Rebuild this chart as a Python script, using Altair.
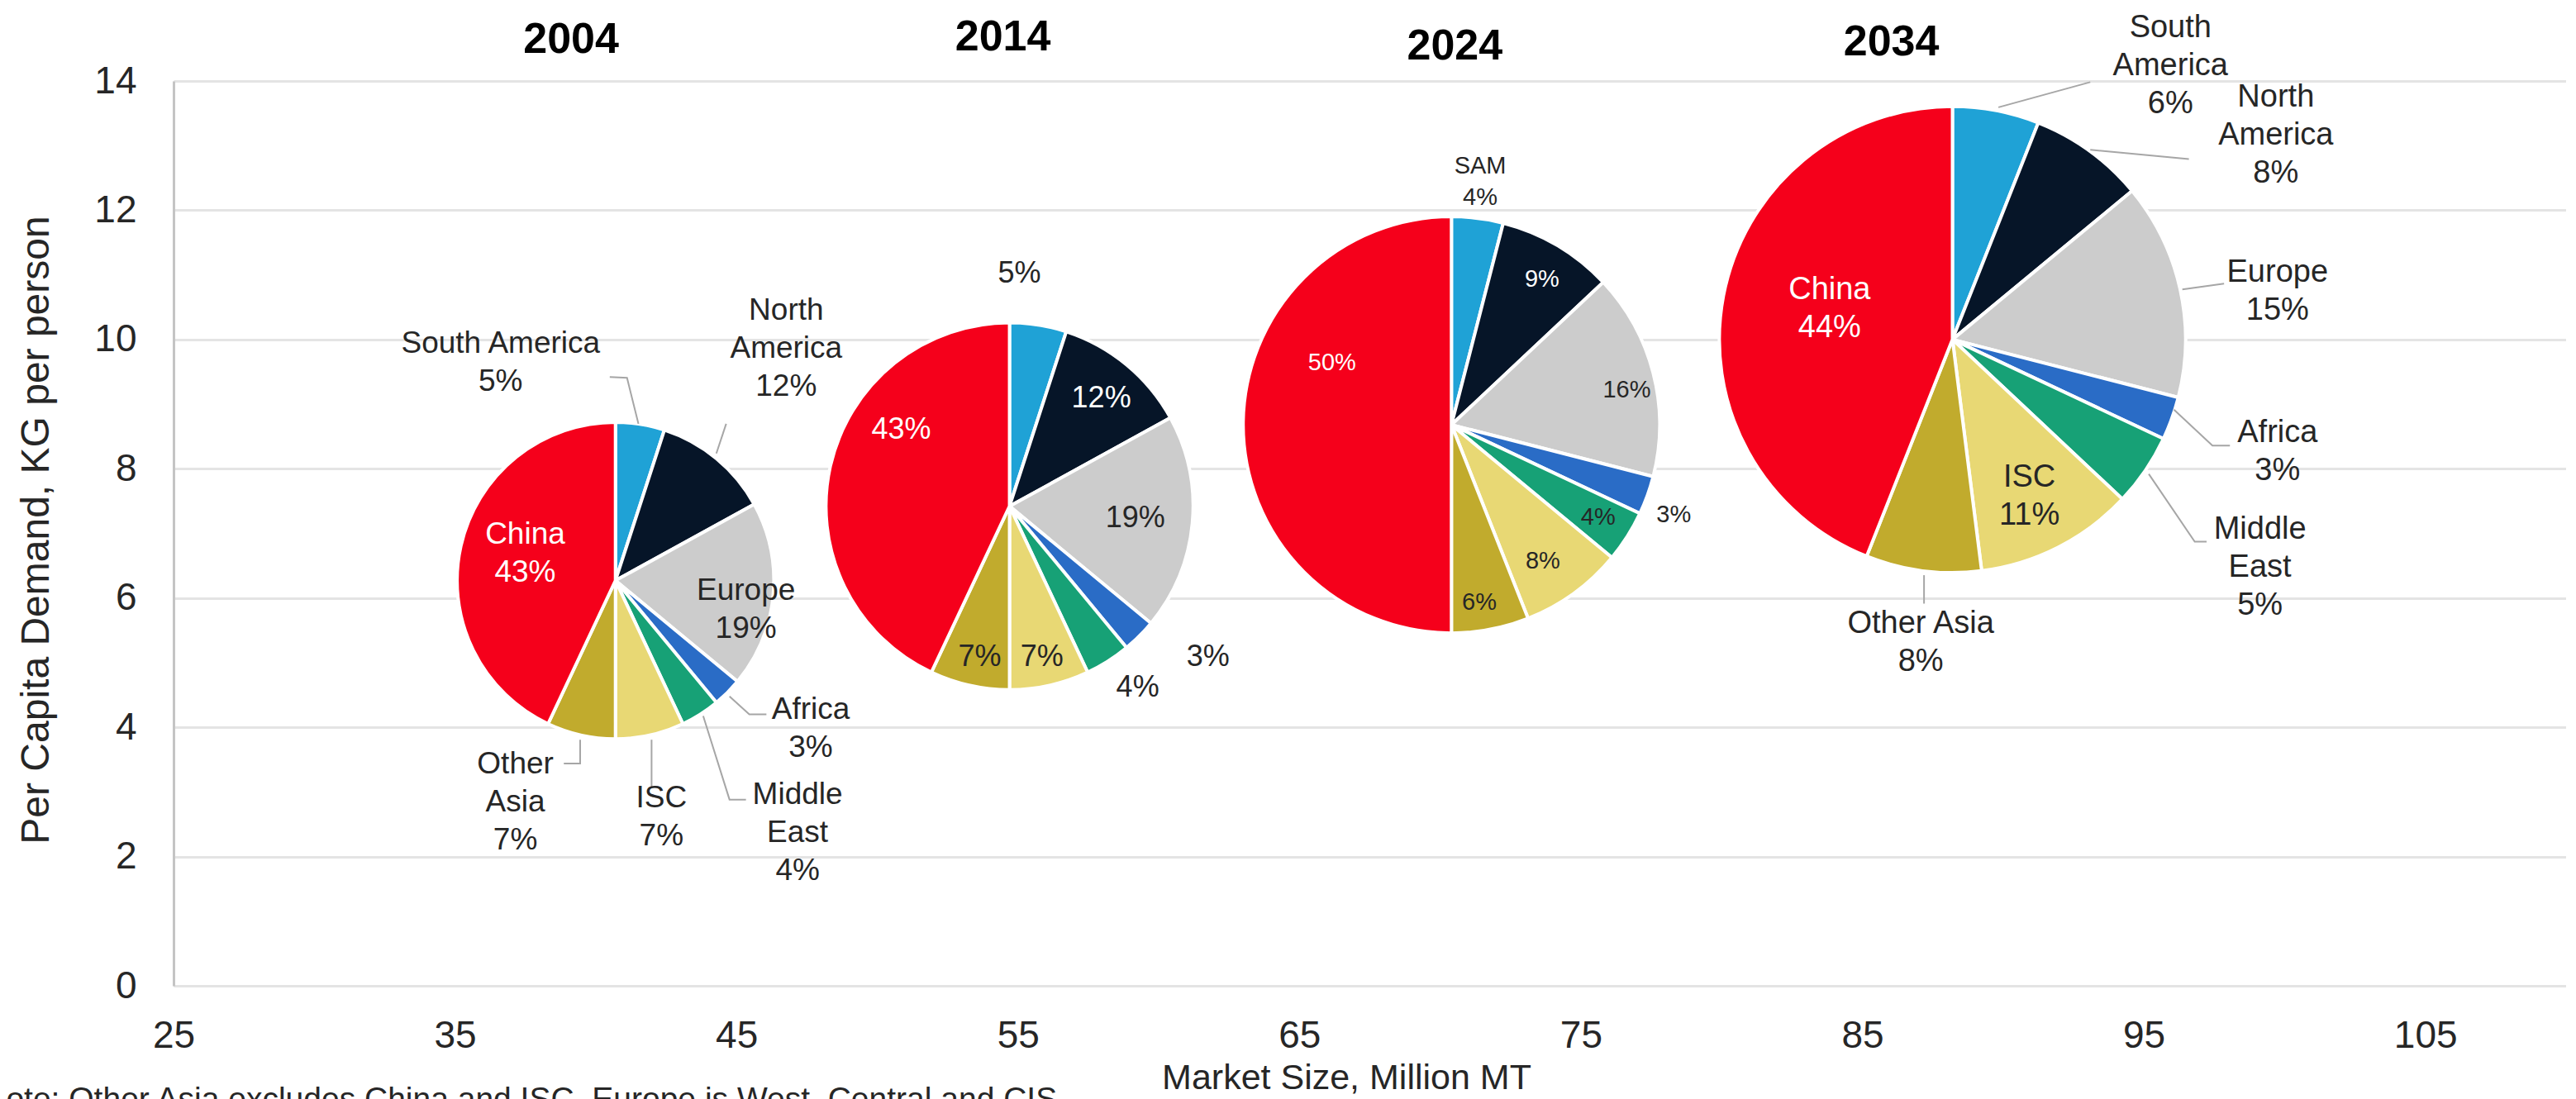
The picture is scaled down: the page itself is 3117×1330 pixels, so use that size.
import math
import altair as alt
import pandas as pd

# ---------------- data ----------------
YEARS = ["2004", "2014", "2024", "2034"]
MARKET_SIZE = [40.7, 54.7, 70.4, 88.2]      # Million MT (x position, pie size)
PER_CAPITA = [6.27, 7.42, 8.68, 10.0]       # KG per person (y position)
REGIONS = ["South America", "North America", "Europe", "Africa",
           "Middle East", "ISC", "Other Asia", "China"]
SHARE_2004 = [5, 12, 19, 3, 4, 7, 7, 43]
SHARE_2014 = [5, 12, 19, 3, 4, 7, 7, 43]
SHARE_2024 = [4, 9, 16, 3, 4, 8, 6, 50]
SHARE_2034 = [6, 8, 15, 3, 5, 11, 8, 44]
NAMES_2004 = ["South America", "North\nAmerica", "Europe", "Africa",
              "Middle\nEast", "ISC", "Other\nAsia", "China"]
NAMES_2014 = ["", "", "", "", "", "", "", ""]
NAMES_2024 = ["SAM", "", "", "", "", "", "", ""]
NAMES_2034 = ["South\nAmerica", "North\nAmerica", "Europe", "Africa",
              "Middle\nEast", "ISC", "Other Asia", "China"]
X_TICKS = [25, 35, 45, 55, 65, 75, 85, 95, 105]
Y_TICKS = [0, 2, 4, 6, 8, 10, 12, 14]
X_TITLE = "Market Size, Million MT"
Y_TITLE = "Per Capita Demand, KG per person"
NOTE = "Note: Other Asia excludes China and ISC. Europe is West, Central and CIS."

SHARES = {"2004": SHARE_2004, "2014": SHARE_2014, "2024": SHARE_2024, "2034": SHARE_2034}
NAMES = {"2004": NAMES_2004, "2014": NAMES_2014, "2024": NAMES_2024, "2034": NAMES_2034}

# ---------------- style / layout ----------------
COLORS = ["#1fa2d6", "#061528", "#cccccc", "#2a6cc6",
          "#17a176", "#e8d874", "#c1ab2d", "#f5001b"]
FONT = "Liberation Sans"
TXT = "#262626"
W, H = 2895, 1095
X_DOM = [25, 110]
Y_DOM = [0, 14]
R_MAX = 300.4                      # pie radius (px) for a 100 Million MT market
PX_X = W / (X_DOM[1] - X_DOM[0])
PX_Y = H / (Y_DOM[1] - Y_DOM[0])
LABEL_FS = {"2004": 37, "2014": 36, "2024": 29, "2034": 38}
LABEL_LH = {"2004": 46, "2014": 46, "2024": 38, "2034": 46}

# label centre offsets from the pie centre, in pie radii (x right, y down)
LABEL_OFFSET = {
    "2004": [(-0.725, -1.373), (1.078, -1.466), (0.824, 0.187), (1.233, 0.938),
             (1.150, 1.591), (0.290, 1.492), (-0.632, 1.399), (-0.570, -0.171)],
    "2014": [(0.054, -1.266), (0.500, -0.590), (0.685, 0.063), (1.081, 0.820),
             (0.698, 0.986), (0.176, 0.820), (-0.162, 0.820), (-0.590, -0.419)],
    "2024": [(0.138, -1.166), (0.435, -0.700), (0.842, -0.166), (1.067, 0.431),
             (0.704, 0.443), (0.439, 0.656), (0.134, 0.854), (-0.573, -0.296)],
    "2034": [(0.935, -1.172), (1.387, -0.875), (1.394, -0.204), (1.394, 0.484),
             (1.319, 0.978), (0.330, 0.674), (-0.136, 1.301), (-0.527, -0.129)],
}
# leader lines: polyline vertices, in pie radii from the pie centre
LEADERS = {
    "2004": {
        "South America": [(0.145, -0.990), (0.073, -1.280), (-0.036, -1.285)],
        "North America": [(0.637, -0.803), (0.699, -0.990)],
        "Africa": [(0.720, 0.731), (0.845, 0.845), (0.953, 0.845)],
        "Middle East": [(0.554, 0.855), (0.720, 1.383), (0.824, 1.383)],
        "ISC": [(0.228, 1.005), (0.228, 1.311)],
        "Other Asia": [(-0.223, 1.005), (-0.223, 1.155), (-0.326, 1.155)],
    },
    "2034": {
        "South America": [(0.197, -0.996), (0.591, -1.104)],
        "North America": [(0.591, -0.814), (1.014, -0.774)],
        "Europe": [(0.986, -0.215), (1.165, -0.240)],
        "Africa": [(0.950, 0.301), (1.115, 0.455), (1.190, 0.455)],
        "Middle East": [(0.842, 0.577), (1.039, 0.867), (1.090, 0.867)],
        "Other Asia": [(-0.122, 1.011), (-0.122, 1.133)],
    },
}
TITLE_OFFSET = {"2004": (-0.280, -3.435), "2014": (-0.036, -2.572),
                "2024": (0.016, -1.834), "2034": (-0.262, -1.290)}

# ---------------- tables ----------------
pie_rows, lab_rows, lead_rows, title_rows = [], [], [], []
for i, yr in enumerate(YEARS):
    m, pc = MARKET_SIZE[i], PER_CAPITA[i]
    for j, reg in enumerate(REGIONS):
        s = SHARES[yr][j]
        pie_rows.append(dict(year=yr, region=reg, ord=j, share=s, m=m, pc=pc))
        name = NAMES[yr][j]
        ux, uy = LABEL_OFFSET[yr][j]
        inside = (ux * ux + uy * uy) < 1.0
        white = inside and reg in ("China", "North America")
        text = (name + "\n" if name else "") + f"{s}%"
        lab_rows.append(dict(year=yr, region=reg, m=m, pc=pc, ux=ux, uy=uy,
                             text=text, nl=text.count("\n") + 1, lh=LABEL_LH[yr],
                             tc="#ffffff" if white else TXT))
    for reg, pts in LEADERS.get(yr, {}).items():
        for k, (ux, uy) in enumerate(pts):
            lead_rows.append(dict(key=yr + reg, k=k, m=m, pc=pc, ux=ux, uy=uy))
    tx, ty = TITLE_OFFSET[yr]
    title_rows.append(dict(year=yr, m=m, pc=pc, ux=tx, uy=ty))

pie_df = pd.DataFrame(pie_rows)
lab_df = pd.DataFrame(lab_rows)
lead_df = pd.DataFrame(lead_rows)
title_df = pd.DataFrame(title_rows)

R_EXPR = f"{R_MAX} * sqrt(datum.m / 100)"
LX = f"datum.m + datum.ux * {R_EXPR} / {PX_X}"
LY = f"datum.pc - datum.uy * {R_EXPR} / {PX_Y}"
# multi-line labels: move the first line up so the whole block is centred
LY_BLOCK = LY + f" + (datum.nl - 1) * datum.lh / 2 / {PX_Y}"

xscale = alt.Scale(domain=X_DOM, nice=False, zero=False)
yscale = alt.Scale(domain=Y_DOM, nice=False, zero=False)

x_axis = alt.Axis(values=X_TICKS, grid=False, domain=False, ticks=False, tickSize=0,
                  labelPadding=60, labelBaseline="middle", labelFontSize=46,
                  labelFont=FONT, labelColor=TXT, labelFlush=False, labelOverlap=False,
                  title=X_TITLE, titleFont=FONT, titleFontSize=43, titleFontWeight="normal",
                  titleColor=TXT, titleX=1419, titleY=111, titleAlign="center",
                  titleBaseline="middle")
y_axis = alt.Axis(values=Y_TICKS, grid=True, gridColor="#e4e4e4", gridWidth=3,
                  domain=True, domainColor="#c4c4c4", domainWidth=3,
                  ticks=False, tickSize=0, labelPadding=45, labelFontSize=46,
                  labelFont=FONT, labelColor=TXT,
                  title=Y_TITLE, titleFont=FONT, titleFontSize=48, titleFontWeight="normal",
                  titleColor=TXT, titleX=-166, titleY=543, titleAngle=270,
                  titleAlign="center", titleBaseline="middle")


def X(field):
    return alt.X(field, type="quantitative", scale=xscale, axis=x_axis)


def Y(field):
    return alt.Y(field, type="quantitative", scale=yscale, axis=y_axis)


arcs = alt.Chart(pie_df).transform_window(
    cum="sum(share)", groupby=["year"], sort=[alt.SortField("ord")]
).transform_calculate(start="datum.cum - datum.share").mark_arc(
    stroke="white", strokeWidth=4
).encode(
    x=X("m"),
    y=Y("pc"),
    theta=alt.Theta("start:Q", scale=alt.Scale(domain=[0, 100], range=[0, 2 * math.pi])),
    theta2="cum:Q",
    radius=alt.Radius("m:Q", scale=alt.Scale(type="sqrt", domain=[0, 100], range=[0, R_MAX])),
    color=alt.Color("region:N", scale=alt.Scale(domain=REGIONS, range=COLORS), legend=None),
)

leaders = alt.Chart(lead_df).transform_calculate(lx=LX, ly=LY).mark_line(
    color="#a6a6a6", strokeWidth=2
).encode(
    x=X("lx"),
    y=Y("ly"),
    detail="key:N",
    order="k:Q",
)

label_layers = []
for yr in YEARS:
    label_layers.append(
        alt.Chart(lab_df[lab_df["year"] == yr]).transform_calculate(lx=LX, ly=LY_BLOCK).mark_text(
            font=FONT, fontSize=LABEL_FS[yr], lineHeight=LABEL_LH[yr], lineBreak="\n",
            align="center", baseline="middle"
        ).encode(
            x=X("lx"),
            y=Y("ly"),
            text="text:N",
            color=alt.Color("tc:N", scale=None),
        )
    )

titles = alt.Chart(title_df).transform_calculate(lx=LX, ly=LY).mark_text(
    font=FONT, fontSize=52, fontWeight="bold", color="#000000",
    align="center", baseline="middle", dy=4
).encode(
    x=X("lx"),
    y=Y("ly"),
    text="year:N",
)

note = alt.Chart(pd.DataFrame({"note": [NOTE]})).mark_text(
    font=FONT, fontSize=39, color=TXT, align="right", baseline="alphabetic"
).encode(
    x=alt.value(1080), y=alt.value(1245), text="note:N"
)

chart = alt.layer(arcs, leaders, *label_layers, titles, note).properties(
    width=W, height=H,
    autosize=alt.AutoSizeParams(type="none"),
    padding={"left": 202, "top": 90, "right": 0, "bottom": 150},
    background="white",
).configure_view(stroke=None)

chart.save("out.html", embed_options={"renderer": "svg", "actions": False})
